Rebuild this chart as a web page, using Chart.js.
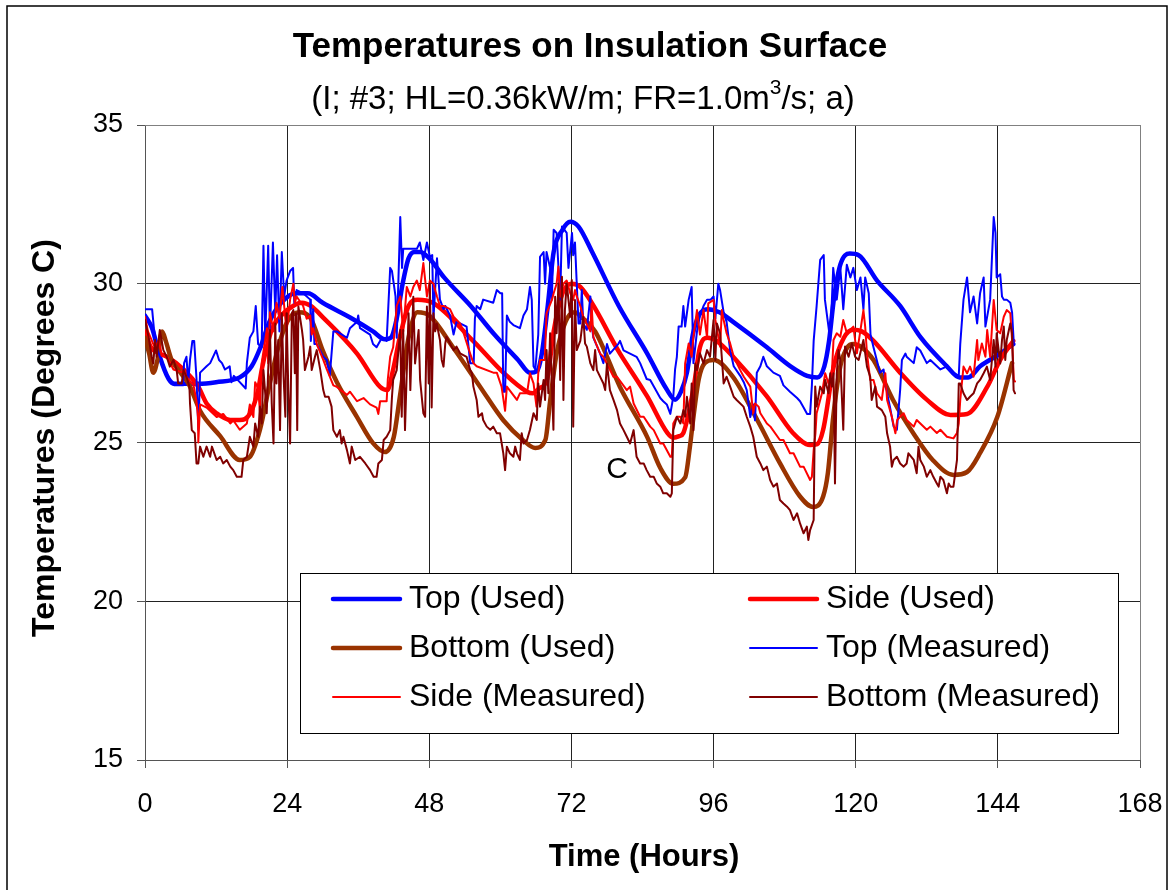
<!DOCTYPE html>
<html><head><meta charset="utf-8">
<script src="https://cdn.jsdelivr.net/npm/chart.js@4.4.1/dist/chart.umd.min.js"></script>
<style>html,body{margin:0;padding:0;background:#fff;}#wrap{width:1172px;height:890px;}</style>
</head><body><div id="wrap"><canvas id="c" width="1172" height="890"></canvas></div>
<script>
const FONT = "'Liberation Sans', Arial, sans-serif";
const titleText = "Temperatures on Insulation Surface";
const subtitleParts = ["(I; #3; HL=0.36kW/m; FR=1.0m", "3", "/s; a)"];
const xAxisTitle = "Time (Hours)";
const yAxisTitle = "Temperatures (Degrees C)";
const annotationText = "C";
const xTickValues = [0, 24, 48, 72, 96, 120, 144, 168];
const yTickValues = [15, 20, 25, 30, 35];
const seriesNames = ["Top (Used)", "Side (Used)", "Bottom (Used)", "Top (Measured)", "Side (Measured)", "Bottom (Measured)"];

const topUsedH = [0,1.2,2.5,4,5,9,12,16,18,19.5,21,23,25.5,27.5,30,35,38.5,40.5,41.5,42.5,43.5,44.5,45.5,46.5,48,50.5,55,59,63,65,66.2,67,68,69,70.5,71.8,73.2,75.5,80,84.8,88,89.5,90.5,91.5,92.5,93.5,95,97,99.3,105,109,111.8,113.5,114.7,115.5,116.3,117.4,119,120.5,123.6,127.5,131,135.4,137.5,139,141,144.4,146.6];
const topUsedV = [29.0,28.6,27.7,27.0,26.85,26.85,26.9,27.05,27.4,28.0,28.8,29.4,29.7,29.7,29.4,28.9,28.5,28.25,28.3,28.9,30.0,30.8,31.0,31.0,30.8,30.2,29.3,28.4,27.6,27.2,27.25,27.8,29.3,31.0,31.7,31.95,31.8,31.0,29.3,27.8,26.7,26.35,26.6,27.2,28.4,29.0,29.2,29.1,28.8,28.0,27.4,27.1,27.05,27.4,28.2,29.5,30.6,30.95,30.9,30.1,29.3,28.3,27.4,27.05,27.05,27.4,27.8,28.1];

const sideUsedH = [0,1,2.5,3.7,6.5,9,10.4,12.1,14.4,16,17.7,19.1,19.7,20.55,21.5,23,25,26.5,28,30,35.8,39.7,40.9,41.9,43,44.5,46,48.6,55.4,60.5,64.5,65.5,66.5,67.9,69,70.5,72,73.5,80.2,84.8,88.2,89.2,90.2,90.9,92.6,93.7,95,96.5,99.3,105,109.4,112.3,113.5,114.5,116.3,118,119.6,121,123,127.5,132,136,138.8,142.2,144.4,146.6];
const sideUsedV = [28.5,28.0,27.8,27.7,27.3,26.76,26.23,25.92,25.71,25.71,25.9,26.65,27.28,28.0,28.6,29.0,29.3,29.4,29.3,28.95,27.8,26.75,26.65,27.3,28.3,29.3,29.5,29.4,28.2,27.2,26.6,26.55,26.7,27.0,28.5,29.7,30.0,29.9,27.8,26.45,25.3,25.15,25.2,25.3,26.7,28.0,28.3,28.2,27.7,26.45,25.3,24.92,24.95,25.4,27.4,28.3,28.55,28.5,28.2,27.2,26.35,25.87,25.9,26.75,27.6,28.2];

const bottomUsedH = [0,0.7,1.4,2.1,2.9,3.5,4.5,6,7.5,9.3,12.7,16,17.7,19.4,21,22.5,24,26,28,30,32.4,35.8,38.5,40.5,42,43,44.5,46,48,52,56.6,60.5,63.8,65.9,67.6,68.4,69.5,71,72.5,74,76,80.2,84.8,87,89.2,91.2,92,92.6,93.5,94.5,96,99.3,103.4,107.2,110.6,112.8,114.5,115.3,116.2,117.4,118.6,119.6,121,123,126.3,129.7,133,136.5,138.8,141,143.9,146.4];
const bottomUsedV = [28.3,27.8,27.2,27.6,28.5,28.2,27.6,27.2,26.8,26.0,25.2,24.45,24.55,25.4,26.8,28.0,28.8,29.1,28.9,27.9,26.9,25.8,24.98,24.7,25.17,26.4,28.3,29.1,29.0,28.0,26.75,25.7,25.08,24.83,25.08,26.3,27.8,28.8,29.1,28.9,28.5,26.75,25.17,24.2,23.7,23.9,24.86,25.8,27.0,27.5,27.6,27.06,25.7,24.35,23.3,22.97,23.3,24.04,25.8,27.4,28.0,28.1,28.0,27.6,26.34,25.3,24.45,23.98,24.07,24.67,25.8,27.5];

const topMeasH = [0,1.2,1.5,2.0,2.5,3.0,3.7,4.3,5.0,6.4,6.6,7.0,7.3,7.6,8.0,8.3,8.7,9.0,9.3,10.4,11.0,12.0,12.5,13.0,13.5,14.3,14.6,15.0,16.0,17.0,17.2,17.7,18.3,18.7,19.1,19.7,20.0,20.3,20.8,21.1,21.6,22.0,22.3,22.7,23.1,23.5,23.9,24.5,25.0,25.2,25.6,26.7,27.9,28.0,28.4,28.6,29.0,30.1,30.7,31.2,31.5,31.8,32.4,34.1,34.6,35.8,36.0,36.3,38.0,38.5,39.1,40.0,40.8,41.4,41.7,42.3,42.5,43.1,43.4,43.6,44.8,45.9,46.4,47.0,47.6,48.1,48.5,48.7,49.3,49.8,50.4,50.7,51.5,52.1,52.6,53.2,54.3,54.9,55.5,55.7,56.0,56.6,57.1,58.8,59.4,60.0,60.3,60.5,60.8,61.1,61.6,62.2,63.3,63.9,64.5,65.0,65.3,65.6,65.9,66.4,66.7,67.3,67.55,67.8,68.4,68.7,69.0,69.5,70.1,70.4,71.2,71.5,72.1,72.3,72.6,72.9,73.2,73.5,73.75,74.0,74.6,75.2,75.4,75.7,76.85,77.4,78.0,78.5,79.9,80.2,80.8,83.0,83.6,84.7,85.3,87.0,87.5,88.1,88.7,89.2,89.5,89.8,90.1,90.6,90.9,91.2,91.8,92.3,92.6,93.2,93.7,94.3,94.9,95.5,96.0,96.3,96.8,97.1,97.7,98.2,98.8,99.4,100.5,101.1,101.6,102.2,102.7,103.0,103.3,103.9,104.4,105.0,106.1,107.2,107.8,108.9,110.1,110.6,111.2,111.8,112.3,112.6,112.9,113.4,114.0,114.6,114.8,115.4,115.7,116.2,116.8,117.4,117.9,118.5,119.1,119.6,120.2,120.8,121.3,121.6,122.2,122.5,123.0,124.1,124.7,125.3,125.8,126.4,126.95,127.5,127.8,128.4,128.6,129.8,130.3,130.9,132.0,132.6,134.3,135.4,136.5,137.4,137.65,138.2,138.8,139.3,139.9,140.5,141.0,141.6,141.9,142.7,143.3,143.6,143.8,144.4,144.7,145.0,145.5,146.1,146.4,146.7];
const topMeasV = [29.2,29.2,28.6,28.0,27.7,27.5,27.1,26.9,26.8,26.8,27.5,27.7,26.9,27.6,28.2,28.2,27.0,25.4,27.2,27.4,27.5,27.9,27.6,27.5,27.3,27.4,26.9,27.1,26.9,26.7,27.5,28.3,28.5,29.3,28.1,28.0,31.2,28.3,31.2,28.5,31.3,29.1,30.9,28.5,31.0,29.6,30.1,30.4,30.5,29.4,29.8,29.7,29.5,28.2,29.2,28.1,28.1,27.7,27.6,27.1,27.8,28.5,28.5,28.3,28.6,28.8,29.0,28.6,28.4,28.1,28.0,28.3,28.2,30.5,30.4,29.6,28.3,32.1,30.5,31.1,31.1,31.1,31.3,30.75,31.3,30.85,30.9,28.9,30.8,29.5,29.2,29.3,29.0,28.4,28.8,28.75,28.65,27.5,27.5,28.9,29.3,29.2,29.5,29.4,29.8,29.7,29.7,26.6,26.6,29.0,28.8,28.7,28.6,29.0,29.2,29.9,29.5,27.4,27.3,28.4,30.85,31.0,30.0,31.0,30.5,29.5,31.7,31.6,29.5,31.8,31.6,30.5,31.6,30.9,31.3,30.0,28.75,28.75,29.8,28.75,28.55,29.6,28.75,28.3,27.8,27.5,28.1,27.8,28.1,28.2,27.9,27.7,27.5,27.0,26.97,26.4,26.3,26.2,25.9,26.44,27.3,27.7,28.65,28.65,29.3,28.65,29.5,29.9,27.5,28.5,29.0,29.3,29.5,29.5,29.6,28.9,30.0,29.8,29.1,28.8,27.9,27.4,27.1,26.9,26.65,25.8,26.2,25.7,27.2,27.4,27.7,27.4,27.2,27.1,26.8,26.6,26.4,26.3,26.1,25.9,25.9,26.8,28.2,29.3,30.75,30.9,29.5,28.65,28.2,30.5,29.5,30.5,29.2,30.6,30.2,30.5,29.8,30.2,29.2,30.2,29.7,28.4,28.0,27.2,27.3,26.55,26.1,25.5,25.4,26.65,27.6,27.8,27.7,27.5,28.0,27.9,27.5,27.6,27.3,27.4,27.2,27.1,28.1,29.5,30.2,29.1,29.6,28.75,29.7,30.2,28.65,29.5,32.1,31.6,30.2,30.3,29.6,29.5,29.5,29.4,29.1,28.1];

const sideMeasH = [0,0.5,1.4,1.7,2.3,2.8,3.7,4.8,6.5,7.3,8.2,8.7,8.95,9.0,9.3,10.4,12.1,13.2,14.4,14.9,16.0,17.2,17.7,18.3,18.6,19.1,19.4,19.7,20.6,20.8,21.1,21.7,22.2,22.7,23.2,23.9,24.5,25.05,25.3,25.6,26.7,27.3,27.9,28.15,28.4,29.0,30.1,30.7,31.8,32.4,34.1,34.6,35.8,36.9,38.0,39.1,39.4,39.7,40.8,41.0,41.4,41.9,42.5,43.1,43.6,44.2,44.8,45.3,45.9,46.4,47.0,47.6,48.1,48.7,49.3,49.8,50.4,51.5,52.1,53.2,53.8,54.9,55.45,56.0,58.8,59.4,60.2,60.8,61.1,62.8,63.3,64.5,65.0,65.6,66.1,66.4,66.7,67.5,67.8,68.7,69.0,69.5,69.8,70.1,70.65,71.2,71.8,72.3,72.6,72.9,73.5,74.0,75.2,75.4,75.7,76.85,77.4,79.1,79.7,81.35,81.9,82.5,83.6,84.2,85.3,85.9,87.0,87.5,88.7,88.95,89.2,89.8,90.4,90.9,91.2,91.8,92.3,92.6,93.2,93.7,94.3,94.9,95.1,96.0,96.3,97.1,97.4,97.7,98.2,98.8,99.4,100.5,101.1,102.2,102.7,103.0,103.6,103.9,105.0,105.6,107.2,107.8,108.9,109.5,110.6,111.2,112.3,112.6,112.9,113.2,113.4,113.7,114.3,114.85,115.4,116.0,116.25,116.8,117.4,117.9,118.5,119.6,120.2,120.8,121.3,121.6,121.9,122.45,123.0,123.6,124.4,125.0,125.3,126.1,126.7,127.0,127.5,128.1,128.6,129.8,130.3,132.0,132.6,133.7,134.3,135.4,136.5,137.1,137.4,137.65,138.2,138.8,139.3,139.9,140.5,140.7,141.3,141.9,142.2,142.7,143.3,143.8,144.4,145.0,145.5,146.1,146.4,146.7,146.9];
const sideMeasV = [28.96,28.5,28.1,28.0,28.2,27.8,27.7,27.3,27.2,27.0,26.8,26.3,25.8,25.0,26.2,26.1,25.8,25.9,25.6,25.7,25.4,25.6,26.2,25.8,26.9,26.7,26.0,27.5,28.6,27.5,29.1,28.5,29.4,28.9,29.9,28.5,29.5,30.0,29.4,29.6,29.3,28.9,29.0,28.4,28.6,28.1,27.6,27.3,26.8,26.75,26.5,26.6,26.3,26.4,26.2,26.1,25.9,26.3,26.3,27.0,27.7,28.0,29.3,29.6,28.5,29.9,29.6,29.9,30.1,29.8,30.65,29.6,30.1,30.0,29.6,29.3,29.3,29.2,28.96,28.75,28.44,27.8,27.5,27.4,27.2,27.2,26.76,26.0,26.76,26.34,26.55,26.55,27.18,26.86,26.13,27.18,27.6,27.6,29.07,29.49,29.7,30.0,30.54,29.59,30.0,30.1,29.7,29.49,29.8,29.6,29.3,28.96,28.5,29.38,28.33,27.8,27.7,27.07,27.07,26.65,26.76,26.23,25.81,25.81,25.5,25.39,24.97,24.97,24.55,24.55,25.6,25.81,25.81,25.6,27.49,28.12,27.7,28.33,29.17,28.4,29.17,28.3,29.38,29.49,28.86,28.02,29.17,28.86,28.44,28.12,27.7,27.28,27.07,26.76,25.92,26.23,26.13,25.92,25.6,25.5,25.08,25.08,24.66,24.66,24.24,24.24,23.82,23.92,24.76,25.29,25.92,26.13,26.55,27.18,26.86,27.28,28.23,28.44,28.33,28.86,28.44,28.65,27.81,28.54,29.17,28.65,27.81,26.97,26.97,26.55,26.34,27.18,26.34,25.81,25.29,25.71,25.81,25.92,25.71,25.5,25.71,25.4,25.5,25.3,25.4,25.18,25.13,25.3,25.6,26.34,27.39,27.18,27.39,27.07,28.23,27.6,28.12,27.7,28.54,27.7,29.49,28.54,28.44,28.96,29.17,29.07,28.23,26.97,26.92];

const bottomMeasH = [0,0.6,1.13,1.4,1.7,1.97,2.5,3.1,3.66,4.2,4.8,5.35,5.6,6.2,6.5,7.0,7.5,7.6,7.9,8.4,8.7,9.0,9.3,9.85,10.4,11.0,11.3,12.1,12.7,13.2,13.8,14.4,14.9,15.5,16.3,16.6,17.2,17.7,18.3,18.6,19.1,19.4,19.7,20.0,20.55,20.8,21.1,21.4,21.7,22.0,22.2,22.5,22.8,23.1,23.4,23.7,23.9,24.2,24.5,24.8,25.05,25.3,25.5,25.7,25.9,26.5,26.7,27.0,27.6,27.9,28.15,28.7,29.0,29.6,30.1,30.4,31.0,31.5,31.8,32.4,32.9,33.2,33.5,34.1,34.6,34.9,35.5,36.3,37.2,38.0,38.6,39.1,39.4,40.0,40.3,40.8,41.4,41.7,41.9,42.5,43.1,43.35,43.6,43.9,44.5,44.8,45.3,45.6,46.2,46.45,47.0,47.3,47.6,47.9,48.1,48.4,48.7,49.0,49.26,49.8,50.1,50.4,50.7,50.9,52.1,52.6,53.2,54.3,54.9,55.2,55.45,56.0,56.3,56.9,57.1,57.7,58.3,58.8,59.4,59.95,60.5,60.8,61.1,61.6,62.2,62.5,62.8,63.3,63.6,63.9,64.5,65.0,65.6,65.9,66.15,66.4,66.7,67.3,67.55,67.8,68.1,68.4,68.96,69.25,69.5,69.8,70.1,70.4,70.65,70.9,71.2,71.8,72.06,72.3,72.6,72.9,73.5,74.0,74.3,74.6,75.2,75.7,76.0,76.3,77.4,77.7,78.0,78.5,79.1,79.7,80.2,80.8,81.35,81.9,82.5,83.0,83.6,84.2,84.7,85.3,85.9,86.4,87.0,87.5,88.1,88.7,88.95,89.2,89.5,89.8,90.4,90.9,91.2,91.5,92.05,92.3,92.6,92.9,93.2,93.7,94.3,94.9,95.4,96.0,96.3,96.55,97.1,97.7,98.2,98.8,99.4,99.9,101.05,101.6,102.2,102.7,103.3,103.9,104.4,105.0,105.55,106.1,106.7,107.2,107.8,108.4,108.9,109.5,110.1,110.6,111.2,111.75,112.0,112.3,112.9,113.16,113.4,114.0,114.6,114.85,115.4,115.7,115.97,116.25,116.5,116.8,117.1,117.4,117.9,118.2,118.8,119.35,119.9,120.5,121.3,121.9,122.45,122.7,123.3,123.6,124.4,125.0,125.3,125.8,126.1,126.4,126.95,127.5,128.1,128.6,128.9,129.8,130.3,130.6,130.9,131.5,132.0,132.6,133.1,133.7,134.0,134.3,134.8,135.4,135.7,136.0,136.5,137.1,137.4,137.65,138.2,138.8,139.3,139.9,140.5,141.0,141.6,142.15,142.7,143.3,143.6,143.8,144.4,144.7,145.0,145.25,145.5,146.1,146.4,146.66,146.9];
const bottomMeasV = [28.86,28.33,27.7,27.49,28.23,27.7,28.54,27.91,27.7,27.39,27.6,27.28,26.86,26.86,27.28,27.07,26.76,26.23,25.39,25.29,24.34,24.34,24.87,24.55,24.87,24.55,24.87,24.45,24.55,24.34,24.45,24.24,24.13,23.92,23.92,24.45,24.55,25.18,24.87,25.6,25.18,26.13,25.6,27.28,25.92,27.28,28.54,26.23,24.97,28.75,26.86,28.23,25.39,29.07,27.07,25.81,29.07,26.65,24.97,29.07,29.17,27.18,29.07,25.39,29.28,28.54,28.23,27.28,27.7,28.02,27.28,27.7,27.91,27.28,26.65,26.44,26.44,26.13,25.39,25.18,25.39,24.97,25.18,24.76,24.34,24.87,24.45,24.55,24.34,24.13,23.92,23.92,24.34,24.45,25.08,25.18,25.39,26.44,26.97,27.28,28.54,25.81,28.54,25.39,29.07,26.65,29.59,27.49,28.54,26.97,25.92,25.81,29.28,26.86,30.01,26.1,29.07,28.5,28.75,28.23,27.6,27.39,28.12,28.33,27.91,28.02,27.81,27.7,27.28,27.18,26.76,26.34,25.81,25.92,25.71,25.5,25.4,25.5,25.29,25.29,24.66,24.13,24.87,24.66,24.55,24.87,24.66,24.45,25.29,24.97,25.08,25.4,25.92,25.81,25.71,26.86,26.13,26.97,26.34,27.91,26.55,28.44,25.4,29.59,28.44,30.01,26.97,30.22,26.34,29.17,30.01,28.96,30.12,25.5,29.49,27.91,28.2,28.96,28.12,28.02,27.49,27.28,27.91,27.28,26.86,26.65,27.49,26.65,26.34,26.02,25.6,25.39,25.18,24.97,25.39,24.55,24.34,24.34,24.13,23.92,23.92,23.71,23.61,23.4,23.4,23.29,23.4,25.39,25.6,25.81,25.6,26.02,25.81,26.44,25.6,26.86,25.39,27.49,27.28,27.81,27.49,27.91,27.7,28.86,27.6,28.75,28.44,26.86,27.07,26.76,26.44,26.34,26.13,25.81,25.5,25.18,24.55,24.34,24.13,24.24,23.82,23.61,23.71,23.19,23.08,22.98,22.87,22.56,22.77,22.45,22.14,22.35,21.93,22.24,22.56,26.76,26.13,26.76,26.55,26.97,26.55,27.18,26.76,27.18,23.71,27.18,27.91,27.6,25.4,28.02,27.7,28.12,27.7,27.6,28.23,27.39,27.07,26.34,26.76,26.13,26.02,25.81,25.29,24.87,24.24,24.45,24.55,24.34,24.24,24.34,24.66,24.45,24.03,24.87,24.45,24.24,23.92,24.13,23.92,23.71,23.61,23.92,23.82,23.4,23.71,23.61,23.61,24.45,26.86,26.86,26.55,26.34,26.44,26.55,26.86,26.97,27.18,27.39,26.97,28.23,27.39,28.44,27.49,28.23,28.65,27.6,28.23,28.75,28.44,26.65,26.55];

function pts(h, v) { return h.map((x, i) => ({ x: x, y: v[i] })); }

const seriesStyle = [
  { color: '#0000FF', width: 4.5, smooth: true },
  { color: '#FF0000', width: 4.5, smooth: true },
  { color: '#993300', width: 4.5, smooth: true },
  { color: '#0000FF', width: 2, smooth: false },
  { color: '#FF0000', width: 2, smooth: false },
  { color: '#800000', width: 2, smooth: false }
];
const seriesData = [
  pts(topUsedH, topUsedV), pts(sideUsedH, sideUsedV), pts(bottomUsedH, bottomUsedV),
  pts(topMeasH, topMeasV), pts(sideMeasH, sideMeasV), pts(bottomMeasH, bottomMeasV)
];

const datasets = seriesNames.map((name, i) => ({
  label: name,
  data: seriesData[i],
  borderColor: seriesStyle[i].color,
  backgroundColor: seriesStyle[i].color,
  borderWidth: seriesStyle[i].width,
  pointRadius: 0,
  fill: false,
  cubicInterpolationMode: seriesStyle[i].smooth ? 'monotone' : 'default',
  tension: 0,
  borderJoinStyle: 'round',
  borderCapStyle: 'round',
  order: 6 - i
}));

const decor = {
  id: 'decor',
  beforeDraw(chart) {
    const c = chart.ctx;
    c.save();
    c.fillStyle = '#fff';
    c.fillRect(0, 0, chart.width, chart.height);
    c.strokeStyle = '#000';
    c.lineWidth = 1.5;
    c.strokeRect(7, 6, 1160, 900);
    c.restore();
  },
  afterDraw(chart) {
    const c = chart.ctx;
    const a = chart.chartArea;
    c.save();
    c.strokeStyle = '#808080';
    c.lineWidth = 1;
    c.beginPath();
    c.moveTo(a.left, a.top + 0.5); c.lineTo(a.right + 0.5, a.top + 0.5); c.lineTo(a.right + 0.5, a.bottom);
    c.stroke();

    c.fillStyle = '#000';
    c.textBaseline = 'middle';
    c.textAlign = 'center';
    c.font = 'bold 35px ' + FONT;
    c.fillText(titleText, 590, 47);

    const mainFont = '33px ' + FONT, supFont = '21px ' + FONT;
    c.font = mainFont; const w0 = c.measureText(subtitleParts[0]).width;
    const w2 = c.measureText(subtitleParts[2]).width;
    c.font = supFont; const w1 = c.measureText(subtitleParts[1]).width;
    let sx = 583 - (w0 + w1 + w2) / 2;
    c.textAlign = 'left';
    c.font = mainFont; c.fillText(subtitleParts[0], sx, 100);
    c.font = supFont; c.fillText(subtitleParts[1], sx + w0, 88);
    c.font = mainFont; c.fillText(subtitleParts[2], sx + w0 + w1, 100);

    c.textAlign = 'center';
    c.font = 'bold 31px ' + FONT;
    c.fillText(xAxisTitle, 644, 857);
    c.save();
    c.translate(45, 438);
    c.rotate(-Math.PI / 2);
    c.font = 'bold 32px ' + FONT;
    c.fillText(yAxisTitle, 0, 0);
    c.restore();

    c.font = '30px ' + FONT;
    c.fillText(annotationText, 617, 470);

    c.fillStyle = '#fff';
    c.fillRect(300, 573, 818, 160);
    c.strokeStyle = '#000';
    c.lineWidth = 1;
    c.strokeRect(300.5, 573.5, 818, 160);
    const colX = [333, 750];
    const rowY = [599, 648, 697];
    c.font = '32px ' + FONT;
    c.textAlign = 'left';
    seriesNames.forEach((name, i) => {
      const col = i % 2, row = Math.floor(i / 2);
      const x = colX[col], y = rowY[row];
      c.strokeStyle = seriesStyle[i].color;
      c.lineWidth = seriesStyle[i].width;
      c.lineCap = 'round';
      c.beginPath(); c.moveTo(x, y); c.lineTo(x + 67, y); c.stroke();
      c.fillStyle = '#000';
      c.fillText(name, x + 76, y);
    });
    c.restore();
  }
};

new Chart(document.getElementById('c'), {
  type: 'line',
  data: { datasets },
  options: {
    responsive: false,
    animation: false,
    devicePixelRatio: 1,
    layout: { padding: { left: 0, top: 125, right: 32, bottom: 0 } },
    plugins: { legend: { display: false }, title: { display: false }, tooltip: { enabled: false } },
    scales: {
      x: {
        type: 'linear', min: 0, max: 168,
        afterFit: s => { s.height = 130; s.paddingLeft = 0; s.paddingRight = 0; },
        afterBuildTicks: s => { s.ticks = xTickValues.map(v => ({ value: v })); },
        ticks: { font: { family: FONT, size: 27 }, color: '#000', padding: 20, maxRotation: 0, autoSkip: false },
        grid: { color: c => (c.tick && c.tick.value === 168) ? '#808080' : '#222', lineWidth: 1, tickLength: 8, tickColor: '#555' },
        border: { color: '#555', width: 1 }
      },
      y: {
        type: 'linear', min: 15, max: 35,
        afterFit: s => { s.width = 145; s.paddingTop = 0; s.paddingBottom = 0; },
        afterBuildTicks: s => { s.ticks = yTickValues.map(v => ({ value: v })); },
        ticks: { font: { family: FONT, size: 27 }, color: '#000', padding: 14 },
        grid: { color: c => (c.tick && c.tick.value === 35) ? '#808080' : '#222', lineWidth: 1, tickLength: 8, tickColor: '#555' },
        border: { color: '#555', width: 1 }
      }
    }
  },
  plugins: [decor]
});
</script>
</body></html>
